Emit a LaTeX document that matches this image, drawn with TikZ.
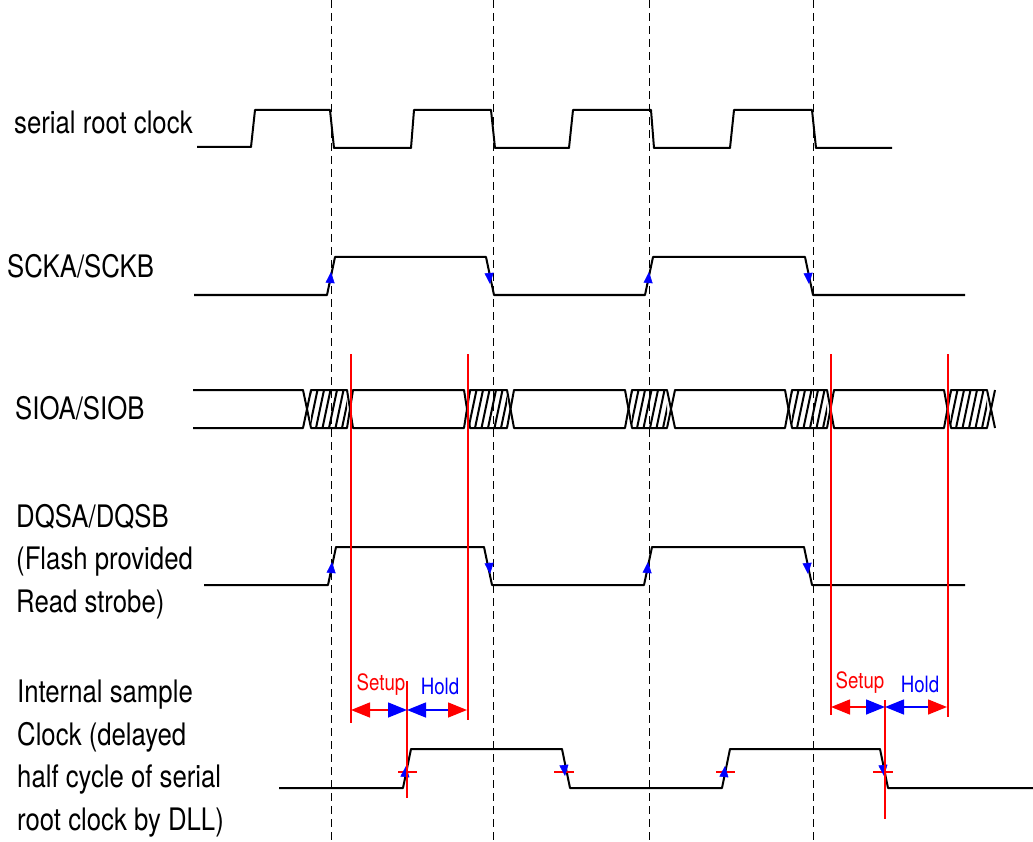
\documentclass[tikz,border=0pt]{standalone}
\usepackage{xcolor}
\usepackage{fontspec}
\setmainfont[FakeStretch=0.83]{TeX Gyre Heros}
\usetikzlibrary{arrows.meta}

\tikzset{
  wave/.style={draw=black, line width=2pt, line join=round},
  guide/.style={draw=black, line width=1pt, dash pattern=on 8pt off 5pt},
  limit/.style={draw=red, line width=2pt},
  tickmark/.style={draw=red, line width=2pt},
  edgetip/.style={-{Triangle[length=11pt, width=9pt, color=blue]}, draw=blue, line width=.5pt},
  siglabel/.style={anchor=north west, align=left, inner sep=0pt, font=\fontsize{31}{42.5}\selectfont},
  timelabel/.style={inner sep=0pt, font=\fontsize{22.5}{24}\selectfont},
  setuparrow/.style={{Triangle[length=19pt, width=15pt, color=red]}-{Triangle[length=19pt, width=15pt, color=blue]}, draw=red, line width=1.5pt},
  holdarrow/.style={{Triangle[length=19pt, width=15pt, color=blue]}-{Triangle[length=19pt, width=15pt, color=red]}, draw=blue, line width=1.5pt},
}

\newcommand{\hatchcell}[2]{
  \begin{scope}
    \clip (#1,390) rectangle (#2,428);
    \foreach \xx in {-8,-1.5,...,45}
      \draw[black, line width=2pt] (#1+\xx,428) -- (#1+\xx+8,390);
  \end{scope}
}

\begin{document}
\begin{tikzpicture}[x=1pt, y=-1pt]
  \useasboundingbox (0,0) rectangle (1033,842);

  \foreach \x in {331,493,649,813}
    \draw[guide] (\x,0) -- (\x,842);

  \node[siglabel] (root) at (14,111) {serial root clock};
  \node[siglabel] (sck) at (7,254) {SCKA/SCKB};
  \node[siglabel] (sio) at (15,396) {SIOA/SIOB};
  \node[siglabel] (dqs) at (16,504) {DQSA/DQSB\\(Flash provided\\Read strobe)};
  \node[siglabel] (sample) at (17,680) {Internal sample\\Clock (delayed\\half cycle of serial\\root clock by DLL)};

  % serial root clock
  \draw[wave] (197,147) -- (251,147) -- (255,110) -- (330,110) -- (334,148) -- (411,148) -- (414,110) -- (491,110) -- (495,148) -- (569,148) -- (573,110) -- (651,110) -- (654,148) -- (730,148) -- (734,110) -- (812,110) -- (816,148) -- (892,148);

  % SCK
  \draw[wave] (194,295) -- (327,295) -- (335,257) -- (486,257) -- (494,295) -- (645,295) -- (653,257) -- (805,257) -- (813,295) -- (965,295);
  \foreach \x in {331,649}
    \draw[edgetip] (\x-1,284) -- (\x,272);
  \foreach \x in {490,809}
    \draw[edgetip] (\x-1,272) -- (\x,284);

  % SIO
  \hatchcell{311}{347}
  \hatchcell{470}{507}
  \hatchcell{632}{667}
  \hatchcell{792}{827}
  \hatchcell{951}{987}
  \draw[wave] (193,390) -- (303,390) -- (311,428) -- (347,428) -- (353,390) -- (464,390) -- (470,428) -- (507,428) -- (514,390) -- (625,390) -- (632,428) -- (667,428) -- (675,390) -- (785,390) -- (792,428) -- (827,428) -- (834,390) -- (944,390) -- (951,428) -- (987,428) -- (995,390);
  \draw[wave] (193,428) -- (303,428) -- (311,390) -- (347,390) -- (353,428) -- (464,428) -- (470,390) -- (507,390) -- (514,428) -- (625,428) -- (632,390) -- (667,390) -- (675,428) -- (785,428) -- (792,390) -- (827,390) -- (834,428) -- (944,428) -- (951,390) -- (987,390) -- (995,428);

  % DQS
  \draw[wave] (204,585) -- (328,585) -- (336,547) -- (484,547) -- (492,585) -- (644,585) -- (652,547) -- (804,547) -- (812,585) -- (965,585);
  \foreach \x in {332,648}
    \draw[edgetip] (\x-1,574) -- (\x,562);
  \foreach \x in {490,808}
    \draw[edgetip] (\x-1,562) -- (\x,574);

  % sample clock
  \draw[wave] (279,788) -- (403,788) -- (411,749) -- (562,749) -- (570,788) -- (722,788) -- (730,749) -- (880,749) -- (888,788) -- (1033,788);
  \foreach \x in {407,725}
    \draw[tickmark] (\x-9,772) -- (\x+10,772);
  \foreach \x in {565,884}
    \draw[tickmark] (\x-11,772) -- (\x+9,772);
  \foreach \x in {406,725}
    \draw[edgetip] (\x-1,776) -- (\x,766);
  \foreach \x in {565,884}
    \draw[edgetip] (\x-1,766) -- (\x,776);

  % setup and hold windows
  \coordinate (s1) at (351,710);
  \coordinate (m1) at (407,710);
  \coordinate (h1) at (467,710);
  \coordinate (s2) at (831,707);
  \coordinate (m2) at (885,707);
  \coordinate (h2) at (947,707);
  \draw[limit] (351,354) -- (351,723);
  \draw[limit] (468,354) -- (468,720);
  \draw[limit] (407,681) -- (407,798);
  \draw[limit] (831,354) -- (831,715);
  \draw[limit] (948,354) -- (948,717);
  \draw[limit] (885,700) -- (885,819);
  \path
  (s1) edge[setuparrow] (m1)
  (m1) edge[holdarrow] (h1)
  (s2) edge[setuparrow] (m2)
  (m2) edge[holdarrow] (h2);
  \node[timelabel, text=red] (setupa) at (381,685) {Setup};
  \node[timelabel, text=blue] (holda) at (440,686) {Hold};
  \node[timelabel, text=red] (setupb) at (860,683) {Setup};
  \node[timelabel, text=blue] (holdb) at (920,684) {Hold};
\end{tikzpicture}
\end{document}
